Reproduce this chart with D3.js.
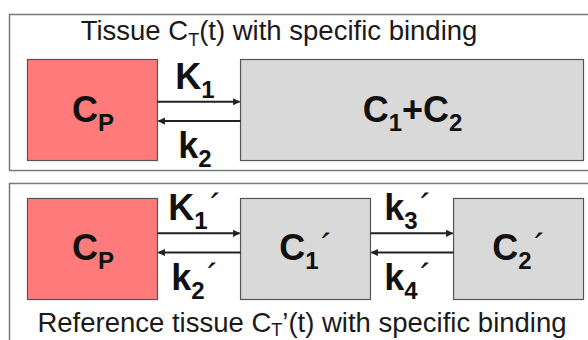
<!DOCTYPE html>
<html><head><meta charset="utf-8">
<script src="https://cdn.jsdelivr.net/npm/d3@7"></script>
<style>
html,body{margin:0;padding:0;background:#fff;}
svg{display:block;font-family:"Liberation Sans",Arial,sans-serif;}
</style>
</head><body>
<svg id="chart" width="588" height="340"></svg>
<script>
// ---- data ----
const panels = ["tissue", "reference"];
const panelTitles = ["Tissue C_T(t) with specific binding", "Reference tissue C_T’(t) with specific binding"];
const columns = ["plasma", "free", "bound"];
const tissueBoxes = ["C_P", "C_1+C_2"];
const tissueBoxCols = [["plasma"], ["free", "bound"]];
const referenceBoxes = ["C_P", "C_1´", "C_2´"];
const referenceBoxCols = [["plasma"], ["free"], ["bound"]];
const tissueRatesForward = ["K_1"];
const tissueRatesBackward = ["k_2"];
const referenceRatesForward = ["K_1´", "k_3´"];
const referenceRatesBackward = ["k_2´", "k_4´"];

// ---- layout ----
const W = 588, H = 340;
const svg = d3.select("#chart");
const x = d3.scaleBand().domain(columns).range([27, 583]).paddingInner(0.39).paddingOuter(0);
const y = d3.scaleBand().domain(panels).range([59, 299]).paddingInner(0.273).paddingOuter(0);
const bw = x.bandwidth(), bh = y.bandwidth();

const defs = svg.append("defs");
defs.append("marker").attr("id", "ah").attr("viewBox", "0 0 10 10")
  .attr("refX", 9).attr("refY", 5).attr("markerWidth", 4.2).attr("markerHeight", 3.6)
  .attr("orient", "auto").attr("markerUnits", "strokeWidth")
  .append("path").attr("d", "M0,0L10,5L0,10Z").attr("fill", "#222");

function rich(sel, str, size, subSize, subShift) {
  const parts = [];
  let i = 0;
  while (i < str.length) {
    const ch = str[i];
    if (ch === "_") { parts.push({t: str[i + 1], sub: true}); i += 2; }
    else if (ch === "´") { parts.push({t: "´", prime: true}); i++; }
    else {
      let j = i;
      while (j < str.length && str[j] !== "_" && str[j] !== "´") j++;
      parts.push({t: str.slice(i, j)}); i = j;
    }
  }
  let off = 0;
  parts.forEach(p => {
    const target = p.sub ? subShift : 0;
    const ts = sel.append("tspan").text(p.t)
      .attr("font-size", p.sub ? subSize : size)
      .attr("dy", target - off);
    if (p.prime) ts.attr("font-weight", "normal").attr("dx", 2);
    off = target;
  });
}

// panels
const panelGeom = {
  tissue: {top: y("tissue") - 45, bottom: y("tissue") + bh + 10},
  reference: {top: y("reference") - 15, bottom: H + 20}
};
panels.forEach(p => {
  svg.append("rect").attr("x", 9.5).attr("y", panelGeom[p].top + 0.5)
    .attr("width", W + 20).attr("height", panelGeom[p].bottom - panelGeom[p].top)
    .attr("fill", "#fff").attr("stroke", "#7a7a7a").attr("stroke-width", 1.5);
});

// titles
const titlePos = {
  tissue: {cx: 279, base: y("tissue") - 19, sub: 6},
  reference: {cx: 302, base: y("reference") + bh + 33, sub: 4}
};
panels.forEach((p, i) => {
  const t = svg.append("text").attr("x", titlePos[p].cx).attr("y", titlePos[p].base)
    .attr("text-anchor", "middle").attr("fill", "#1a1a1a");
  rich(t, panelTitles[i], 27.5, 18, titlePos[p].sub);
});

// boxes
function drawBoxes(panel, labels, cols) {
  labels.forEach((lab, i) => {
    const c = cols[i];
    const x0 = x(c[0]), x1 = x(c[c.length - 1]) + bw;
    svg.append("rect").attr("x", x0 + 0.5).attr("y", y(panel) + 0.5)
      .attr("width", x1 - x0).attr("height", bh)
      .attr("fill", c[0] === "plasma" ? "#ff7b7b" : "#d9d9d9")
      .attr("stroke", "#555").attr("stroke-width", 1.2);
    const t = svg.append("text").attr("x", (x0 + x1) / 2 + 1).attr("y", y(panel) + bh / 2 + 12)
      .attr("text-anchor", "middle").attr("font-weight", "bold").attr("fill", "#111");
    rich(t, lab, 36, 24, 9);
  });
}
drawBoxes("tissue", tissueBoxes, tissueBoxCols);
drawBoxes("reference", referenceBoxes, referenceBoxCols);

// arrows + rate labels
const arrowOff = {tissue: [0.423, 0.614], reference: [0.35, 0.54]};
function drawRates(panel, fwd, bwd, boxCols) {
  fwd.forEach((lab, i) => {
    const left = boxCols[i], right = boxCols[i + 1];
    const xa = x(left[left.length - 1]) + bw + 0.5, xb = x(right[0]) + 0.5;
    const ya = y(panel) + bh * arrowOff[panel][0];
    const yb = y(panel) + bh * arrowOff[panel][1];
    svg.append("line").attr("x1", xa).attr("x2", xb - 1).attr("y1", ya).attr("y2", ya)
      .attr("stroke", "#222").attr("stroke-width", 2).attr("marker-end", "url(#ah)");
    svg.append("line").attr("x1", xb).attr("x2", xa + 1).attr("y1", yb).attr("y2", yb)
      .attr("stroke", "#222").attr("stroke-width", 2).attr("marker-end", "url(#ah)");
    const cx = (xa + xb) / 2 - 4;
    const t1 = svg.append("text").attr("x", cx).attr("y", ya - 13)
      .attr("text-anchor", "middle").attr("font-weight", "bold").attr("fill", "#111");
    rich(t1, lab, 36, 24, 9);
    const t2 = svg.append("text").attr("x", cx).attr("y", yb + 37)
      .attr("text-anchor", "middle").attr("font-weight", "bold").attr("fill", "#111");
    rich(t2, bwd[i], 36, 24, 9);
  });
}
drawRates("tissue", tissueRatesForward, tissueRatesBackward, tissueBoxCols);
drawRates("reference", referenceRatesForward, referenceRatesBackward, referenceBoxCols);
</script>
</body></html>
